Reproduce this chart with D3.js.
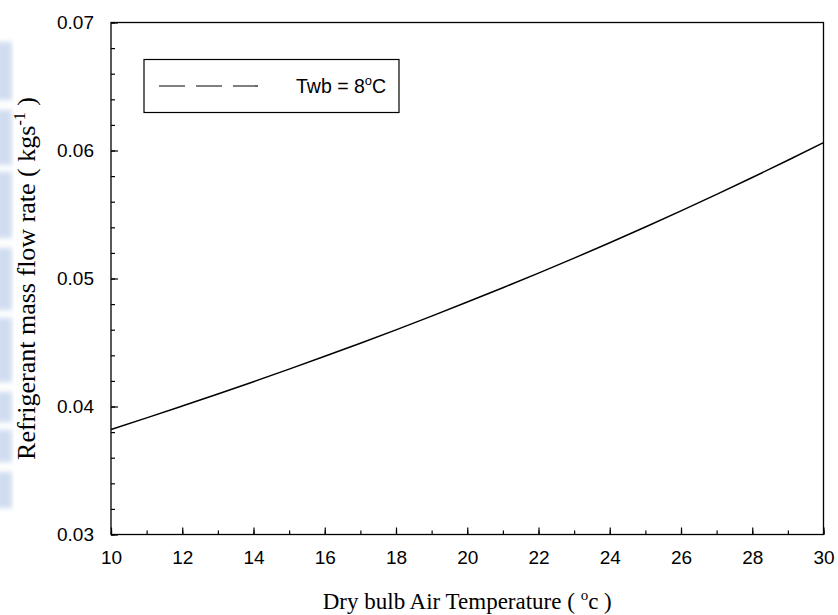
<!DOCTYPE html>
<html>
<head>
<meta charset="utf-8">
<script src="https://cdn.jsdelivr.net/npm/d3@7"></script>
<style>
  html, body { margin: 0; padding: 0; background: #fff; }
  svg { display: block; }
</style>
</head>
<body>
<svg id="chart" width="838" height="615"></svg>
<script>
// ---- data ----
const dryBulbTemp = [10, 11, 12, 13, 14, 15, 16, 17, 18, 19, 20, 21, 22, 23, 24, 25, 26, 27, 28, 29, 30];
const massFlowRate = [0.03820, 0.03911, 0.04004, 0.04098, 0.04194, 0.04292, 0.04392, 0.04494, 0.04599, 0.04706,
                      0.04816, 0.04928, 0.05042, 0.05159, 0.05279, 0.05402, 0.05528, 0.05657, 0.05789, 0.05924, 0.06062];
const xTickValues = [10, 12, 14, 16, 18, 20, 22, 24, 26, 28, 30];
const yTickValues = [0.03, 0.04, 0.05, 0.06, 0.07];
const seriesName = "Twb = 8";

(function () {
// ---- layout ----
const svg = d3.select("#chart");
const pL = 111, pR = 823.5, pT = 22.5, pB = 534.5;

const x = d3.scaleLinear().domain([10, 30]).range([pL, pR]);
const y = d3.scaleLinear().domain([0.03, 0.07]).range([pB, pT]);

// faint watermark strip on the left edge
const defs = svg.append("defs");
defs.append("filter").attr("id", "wmblur").append("feGaussianBlur").attr("stdDeviation", 2.5);
const wm = svg.append("g").attr("fill", "#a9bfe2").attr("opacity", 0.55).attr("filter", "url(#wmblur)");
[[42, 100], [110, 165], [172, 238], [248, 310], [318, 382], [392, 422], [430, 462], [472, 508]].forEach(([a, b]) => {
  wm.append("rect").attr("x", -4).attr("y", a).attr("width", 16).attr("height", b - a);
});

// minor ticks
const xMinor = d3.range(10, 30.001, 1);
const yMinor = d3.range(0.03, 0.07001, 0.002);

const gx = svg.append("g").attr("transform", `translate(0,${pB})`);
gx.call(d3.axisBottom(x).tickValues(xMinor).tickSize(-4).tickFormat(""))
  .call(g => g.select(".domain").remove());
gx.append("g").call(d3.axisBottom(x).tickValues(xTickValues).tickSize(-7).tickPadding(16).tickFormat(d3.format("d")))
  .call(g => g.select(".domain").remove())
  .call(g => g.selectAll("text").attr("font-family", "Arial, 'Liberation Sans', sans-serif").attr("font-size", 19).attr("fill", "#000"));

const gy = svg.append("g").attr("transform", `translate(${pL},0)`);
gy.call(d3.axisLeft(y).tickValues(yMinor).tickSize(-4).tickFormat(""))
  .call(g => g.select(".domain").remove());
gy.append("g").call(d3.axisLeft(y).tickValues(yTickValues).tickSize(-7).tickPadding(17).tickFormat(d3.format(".2f")))
  .call(g => g.select(".domain").remove())
  .call(g => g.selectAll("text").attr("font-family", "Arial, 'Liberation Sans', sans-serif").attr("font-size", 19).attr("fill", "#000"));

svg.selectAll(".tick line").attr("stroke", "#000").attr("stroke-width", 1.2);

// frame
svg.append("rect").attr("x", pL).attr("y", pT).attr("width", pR - pL).attr("height", pB - pT)
  .attr("fill", "none").attr("stroke", "#000").attr("stroke-width", 1.3);

// line
const line = d3.line().x((d, i) => x(dryBulbTemp[i])).y(d => y(d)).curve(d3.curveMonotoneX);
svg.append("path").datum(massFlowRate).attr("d", line)
  .attr("fill", "none").attr("stroke", "#000").attr("stroke-width", 1.5);

// legend
const lg = svg.append("g");
lg.append("rect").attr("x", 144).attr("y", 59.5).attr("width", 255).attr("height", 53)
  .attr("fill", "#fff").attr("stroke", "#000").attr("stroke-width", 1.2);
lg.append("line").attr("x1", 159).attr("x2", 258).attr("y1", 86).attr("y2", 86)
  .attr("stroke", "#000").attr("stroke-width", 1.2).attr("stroke-dasharray", "26,11");
const lt = lg.append("text").attr("x", 296).attr("y", 93)
  .attr("font-family", "Arial, 'Liberation Sans', sans-serif").attr("font-size", 19.5).attr("fill", "#000");
lt.append("tspan").text(seriesName);
lt.append("tspan").attr("dy", -8).attr("font-size", 13).text("o");
lt.append("tspan").attr("dy", 8).text("C");

// axis titles
const xt = svg.append("text").attr("x", (pL + pR) / 2).attr("y", 609).attr("text-anchor", "middle")
  .attr("font-family", "'Liberation Serif', 'Times New Roman', serif").attr("font-size", 23).attr("fill", "#000");
xt.append("tspan").text("Dry bulb Air Temperature ( ");
xt.append("tspan").attr("dy", -9).attr("font-size", 15).text("o");
xt.append("tspan").attr("dy", 9).text("c )");

const yt = svg.append("text").attr("transform", `translate(35,${(pT + pB) / 2}) rotate(-90)`).attr("text-anchor", "middle")
  .attr("font-family", "'Liberation Serif', 'Times New Roman', serif").attr("font-size", 26).attr("fill", "#000");
yt.append("tspan").text("Refrigerant mass flow rate ( kgs");
yt.append("tspan").attr("dy", -10).attr("font-size", 16).text("-1");
yt.append("tspan").attr("dy", 10).text(" )");
})();
</script>
</body>
</html>
